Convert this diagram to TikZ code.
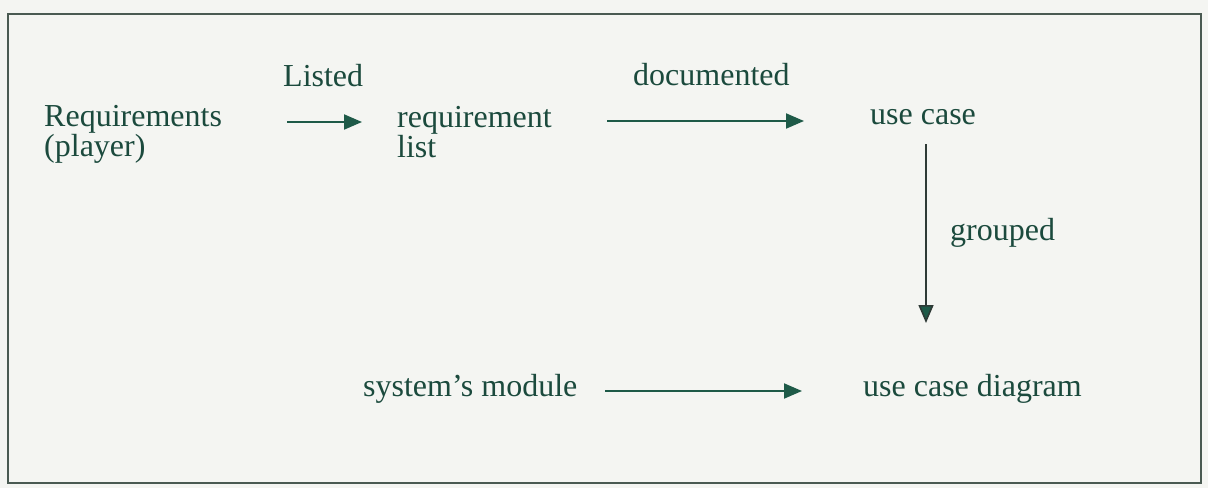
\documentclass[tikz,border=0pt]{standalone}
\usepackage{fontspec}
\setmainfont{Liberation Serif}
\usetikzlibrary{arrows.meta}
\definecolor{txt}{HTML}{1B4A3D}
\definecolor{arrc}{HTML}{1E5A48}
\definecolor{vline}{HTML}{2E3A36}
\definecolor{framec}{HTML}{4A5A52}
\definecolor{bgc}{HTML}{F4F5F2}
\begin{document}
\begin{tikzpicture}[x=1pt,y=-1pt,
  lbl/.style={font=\fontsize{32}{30}\selectfont, text=txt, inner sep=0pt, anchor=base west, align=left},
  conn/.style={draw=arrc, line width=2pt, -{Triangle[length=18pt,width=15pt]}}]
\fill[bgc] (0,0) rectangle (1208,488);
\useasboundingbox (0,0) rectangle (1208,488);
\draw[framec, line width=1.5pt] (8,14) rectangle (1201,483);
\node[lbl] (req) at (44,156) {Requirements\\(player)};
\node[lbl] (listed) at (283,86) {Listed};
\node[lbl] (reqlist) at (397,157) {requirement\\list};
\node[lbl] (doc) at (633,85) {documented};
\node[lbl] (uc) at (870,124) {use case};
\node[lbl] (grp) at (950,240) {grouped};
\node[lbl] (sysmod) at (363,396) {system’s module};
\node[lbl] (ucd) at (863,396) {use case diagram};
\coordinate (a1s) at (287,122);
\coordinate (a1e) at (362,122);
\coordinate (a2s) at (607,121);
\coordinate (a2e) at (804,121);
\coordinate (a3s) at (605,391);
\coordinate (a3e) at (802,391);
\coordinate (a4s) at (926,144);
\coordinate (a4e) at (926,323);
\draw[conn] (a1s) -- (a1e);
\draw[conn] (a2s) -- (a2e);
\draw[conn] (a3s) -- (a3e);
\draw[conn, draw=vline, line width=1.6pt, -{Triangle[length=18pt,width=15pt,fill=arrc]}] (a4s) -- (a4e);
\end{tikzpicture}
\end{document}
